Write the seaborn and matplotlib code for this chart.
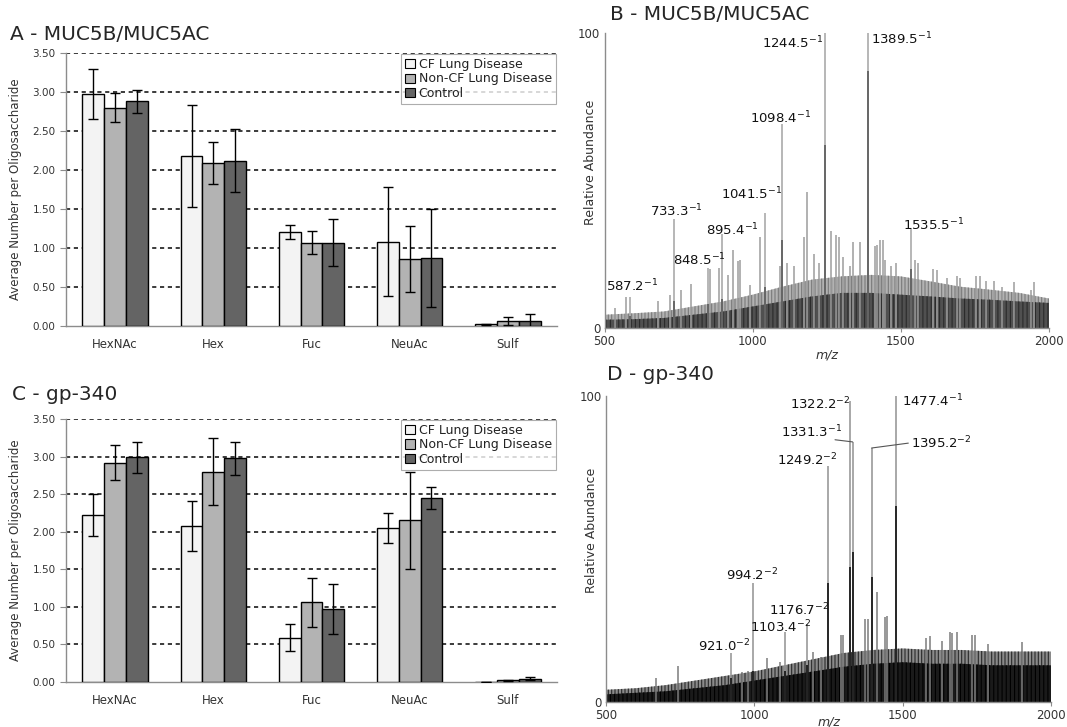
import numpy as np
import pandas as pd
import seaborn as sns
import matplotlib
matplotlib.use("Agg")
import matplotlib.pyplot as plt

# ---- bar chart data (panels A and C) ----
sugars = ["HexNAc", "Hex", "Fuc", "NeuAc", "Sulf"]
groups = ["CF Lung Disease", "Non-CF Lung Disease", "Control"]

# A - MUC5B/MUC5AC
muc_cf = [2.98, 2.18, 1.20, 1.08, 0.02]
muc_noncf = [2.80, 2.09, 1.07, 0.86, 0.06]
muc_ctrl = [2.88, 2.12, 1.07, 0.87, 0.06]
muc_cf_err = [0.32, 0.65, 0.09, 0.70, 0.01]
muc_noncf_err = [0.19, 0.27, 0.15, 0.42, 0.05]
muc_ctrl_err = [0.15, 0.40, 0.30, 0.63, 0.09]

# C - gp-340
gp_cf = [2.22, 2.08, 0.59, 2.05, 0.00]
gp_noncf = [2.92, 2.80, 1.06, 2.15, 0.02]
gp_ctrl = [2.99, 2.98, 0.97, 2.45, 0.04]
gp_cf_err = [0.28, 0.33, 0.18, 0.20, 0.00]
gp_noncf_err = [0.23, 0.45, 0.33, 0.65, 0.01]
gp_ctrl_err = [0.21, 0.22, 0.33, 0.15, 0.02]

# ---- spectrum data (panels B and D) ----
env_mz = [500, 600, 700, 800, 900, 1000, 1100, 1200, 1300, 1400, 1500, 1600, 1700, 1800, 1900, 2000]

# B - MUC5B/MUC5AC
b_core = [2.8, 3.0, 3.4, 4.5, 5.6, 7.3, 9.0, 10.7, 11.9, 11.9, 11.3, 10.7, 10.0, 9.6, 9.0, 8.5]
b_upper = [4.5, 5.0, 5.6, 7.3, 9.0, 11.3, 14.0, 16.4, 17.5, 18.0, 17.5, 15.8, 14.0, 13.0, 11.9, 10.0]
b_peak_mz = [534, 571, 679, 722, 758, 792, 857, 888, 918, 933, 952, 958, 992, 1026, 1091, 1117, 1139,
             1173, 1185, 1207, 1225, 1264, 1281, 1292, 1304, 1327, 1338, 1361, 1412, 1420, 1429, 1440,
             1446, 1468, 1485, 1548, 1559, 1610, 1621, 1655, 1689, 1700, 1754, 1768, 1786, 1813, 1842,
             1881, 1939, 1951]
b_peak_h = [6.8, 10.4, 9, 11.3, 13, 15, 20, 20.3, 18, 26.5, 22.6, 23, 14.7, 31, 21, 22, 21,
            31, 46, 25, 22, 33, 31.6, 31, 24, 21, 29, 29, 27.7, 28, 30, 30,
            23, 21, 22, 23, 22, 20, 19.7, 17, 17.5, 17, 17.7, 17.6, 15.8, 16, 14,
            15.5, 13, 15.5]
b_lab_mz = [587.2, 733.3, 848.5, 895.4, 1041.5, 1098.4, 1244.5, 1389.5, 1535.5]
b_lab_h = [10.5, 37, 20.5, 32, 39, 69, 100, 100, 34]
b_lab_dark = [4, 9, 8, 10, 14, 30, 62, 87, 20]
b_lab_z = [-1, -1, -1, -1, -1, -1, -1, -1, -1]

# D - gp-340
d_core = [2.5, 3.0, 3.5, 4.5, 5.5, 7.0, 8.5, 10.0, 11.5, 12.5, 13.0, 12.5, 12.5, 12.0, 12.0, 12.0]
d_upper = [4.0, 4.5, 5.5, 7.0, 8.5, 10.0, 12.0, 14.0, 16.0, 17.0, 17.5, 17.0, 17.0, 16.5, 16.5, 16.5]
d_peak_mz = [668, 743, 957, 980, 1043, 1087, 1197, 1226, 1291, 1300, 1374, 1384, 1413, 1439, 1447,
             1580, 1592, 1633, 1658, 1666, 1682, 1734, 1745, 1787, 1903]
d_peak_h = [8, 11.8, 9.7, 10, 14.5, 13.2, 16.4, 14.8, 22, 22, 27, 27, 36, 27.8, 28,
            21, 21.6, 20, 23, 22.5, 23, 22, 22, 19, 19.5]
d_lab_mz = [921.0, 994.2, 1103.4, 1176.7, 1249.2, 1322.2, 1331.3, 1395.2, 1477.4]
d_lab_h = [16, 39, 23, 25.5, 77, 98.5, 85, 83, 100]
d_lab_dark = [8, 10, 10, 12, 39, 44, 49, 41, 64]
d_lab_z = [-2, -2, -2, -2, -2, -2, -1, -2, -1]

# label placement: (text x, text y, ha, leader line?)
b_lab_pos = [(594, 14.1, "center", False), (744, 39.5, "center", False), (821, 23.2, "center", False),
             (930, 33.3, "center", False), (995, 45.5, "center", False), (1095, 71.2, "center", False),
             (1238, 96.6, "right", False), (1399, 98, "left", False), (1612, 35, "center", False)]
d_lab_pos = [(898, 18.3, "center", False), (991, 41.5, "center", False), (1087, 24.6, "center", False),
             (1152, 30, "center", False), (1280, 79, "right", False), (1324, 97.4, "right", False),
             (1297, 88.3, "right", True), (1527, 84.6, "left", True), (1497, 98.5, "left", False)]

bar_colors = ["#f3f3f3", "#b3b3b3", "#646464"]
txt_gray = "#333333"
spine_gray = "#8c8c8c"

sns.set_style("white")
plt.rcParams["font.family"] = ["DejaVu Sans"]
plt.rcParams["hatch.linewidth"] = 0.8

fig = plt.figure(figsize=(10.67, 7.27), dpi=100)
W, H = 1067.0, 727.0


def px_axes(left, top, right, bottom):
    return fig.add_axes([left / W, 1 - bottom / H, (right - left) / W, (bottom - top) / H])


def bar_panel(ax, cf, noncf, ctrl, errs):
    df = pd.DataFrame({
        "sugar": sugars * 3,
        "group": np.repeat(groups, len(sugars)),
        "value": cf + noncf + ctrl,
    })
    sns.barplot(data=df, x="sugar", y="value", hue="group", hue_order=groups,
                palette=bar_colors, saturation=1, width=0.665, errorbar=None,
                edgecolor="black", linewidth=1, ax=ax, zorder=3)
    for cont, err in zip(ax.containers, errs):
        for bar, e in zip(cont, err):
            x = bar.get_x() + bar.get_width() / 2
            ax.errorbar(x, bar.get_height(), yerr=e, color="black", lw=1,
                        capsize=3.5, capthick=1, zorder=4)
    ax.set_ylim(0, 3.5)
    ax.set_xlim(-0.5, 4.5)
    ax.set_yticks(np.arange(0, 3.51, 0.5))
    ax.set_yticklabels(["%.2f" % v for v in np.arange(0, 3.51, 0.5)])
    for v in np.arange(0.5, 3.51, 0.5):
        ax.axhline(v, color="#1a1a1a", lw=1.2, ls=(0, (2.5, 2.2)), zorder=1)
    ax.set_xticks(np.arange(-0.5, 5, 1), minor=True)
    ax.tick_params(axis="x", which="major", length=0, labelsize=8.5, colors=txt_gray, pad=9)
    ax.tick_params(axis="x", which="minor", length=4, color=spine_gray, direction="out")
    ax.tick_params(axis="y", length=4, color=spine_gray, labelsize=7.5, colors=txt_gray,
                   direction="out", left=True)
    for s in ["top", "right"]:
        ax.spines[s].set_visible(False)
    for s in ["left", "bottom"]:
        ax.spines[s].set_color(spine_gray)
        ax.spines[s].set_linewidth(1)
    ax.set_xlabel("")
    ax.set_ylabel("Average Number per Oligosaccharide", fontsize=8.5, color=txt_gray)
    ax.yaxis.set_label_coords(-0.089, 0.5)
    handles = [plt.Rectangle((0, 0), 1, 1, facecolor=c, edgecolor="black", lw=0.8) for c in bar_colors]
    leg = ax.legend(handles, groups, loc="upper right", bbox_to_anchor=(0.998, 0.997),
                    borderaxespad=0, fontsize=9, frameon=True, fancybox=False,
                    handlelength=0.75, handleheight=0.75, handletextpad=0.3,
                    labelspacing=0.1, borderpad=0.35)
    leg.get_frame().set_edgecolor("#999999")
    leg.get_frame().set_linewidth(0.8)
    for t in leg.get_texts():
        t.set_color("#222222")


def spectrum_panel(ax, core, upper, peak_mz, peak_h, lab_mz, lab_h, lab_dark, lab_z, lab_pos,
                   mass_cols, spike_col, top_col, dark_col):
    ax.fill_between(env_mz, 0, upper, facecolor=mass_cols[0], edgecolor=mass_cols[2],
                    hatch="|||||", lw=0)
    ax.fill_between(env_mz, 0, core, facecolor=mass_cols[1], edgecolor=mass_cols[3],
                    hatch="||||", lw=0)
    ax.vlines(peak_mz, 0, peak_h, color=spike_col, lw=1.1)
    ax.vlines(lab_mz, 0, lab_h, color=top_col, lw=1.2)
    ax.vlines(lab_mz, 0, lab_dark, color=dark_col, lw=1.2)
    for m, h, z, (tx, ty, ha, lead) in zip(lab_mz, lab_h, lab_z, lab_pos):
        ax.text(tx, ty, "%.1f$^{%d}$" % (m, z), ha=ha, va="center", fontsize=9.5, color="#111111")
        if lead:
            if ha == "right":
                ax.plot([tx - 25, m], [ty - 2.6, h], color="#555555", lw=0.8)
            else:
                ax.plot([tx - 8, m], [ty, h], color="#555555", lw=0.8)
    ax.set_xlim(500, 2000)
    ax.set_ylim(0, 100)
    ax.set_xticks([500, 1000, 1500, 2000])
    ax.set_yticks([0, 100])
    ax.tick_params(axis="x", length=3, color=spine_gray, labelsize=8.5, colors=txt_gray,
                   direction="out", bottom=True, pad=2)
    ax.tick_params(axis="y", length=0, labelsize=8.5, colors=txt_gray, pad=3)
    for s in ["top", "right"]:
        ax.spines[s].set_visible(False)
    for s in ["left", "bottom"]:
        ax.spines[s].set_color(spine_gray)
        ax.spines[s].set_linewidth(1)
    ax.set_ylabel("Relative Abundance", fontsize=9, color=txt_gray)
    ax.yaxis.set_label_coords(-0.017, 0.56)
    ax.text(0.5, -0.09, "m/z", transform=ax.transAxes, ha="center", va="center",
            fontsize=9, style="italic", color=txt_gray)


# Panel A
ax_a = px_axes(66, 53, 557, 326)
bar_panel(ax_a, muc_cf, muc_noncf, muc_ctrl, [muc_cf_err, muc_noncf_err, muc_ctrl_err])
fig.text(10 / W, 1 - 34 / H, "A - MUC5B/MUC5AC", fontsize=14.5, va="center", ha="left")

# Panel C
ax_c = px_axes(66, 419, 557, 682)
bar_panel(ax_c, gp_cf, gp_noncf, gp_ctrl, [gp_cf_err, gp_noncf_err, gp_ctrl_err])
fig.text(12 / W, 1 - 395 / H, "C - gp-340", fontsize=14.5, va="center", ha="left")

# Panel B
ax_b = px_axes(604.5, 33, 1049, 328)
spectrum_panel(ax_b, b_core, b_upper, b_peak_mz, b_peak_h, b_lab_mz, b_lab_h, b_lab_dark, b_lab_z,
               b_lab_pos, ("#b2b2b2", "#505050", "#7a7a7a", "#2a2a2a"), "#9d9d9d", "#aaaaaa", "#5a5a5a")
fig.text(610 / W, 1 - 15 / H, "B - MUC5B/MUC5AC", fontsize=14.5, va="center", ha="left")

# Panel D
ax_d = px_axes(606, 396, 1051, 702)
spectrum_panel(ax_d, d_core, d_upper, d_peak_mz, d_peak_h, d_lab_mz, d_lab_h, d_lab_dark, d_lab_z,
               d_lab_pos, ("#8a8a8a", "#1a1a1a", "#2a2a2a", "#000000"), "#7c7c7c", "#9a9a9a", "#111111")
ax_d.texts[-1].set_position((0.5, -0.065))
fig.text(607 / W, 1 - 375 / H, "D - gp-340", fontsize=14.5, va="center", ha="left")

fig.savefig("out.png", dpi=100)
